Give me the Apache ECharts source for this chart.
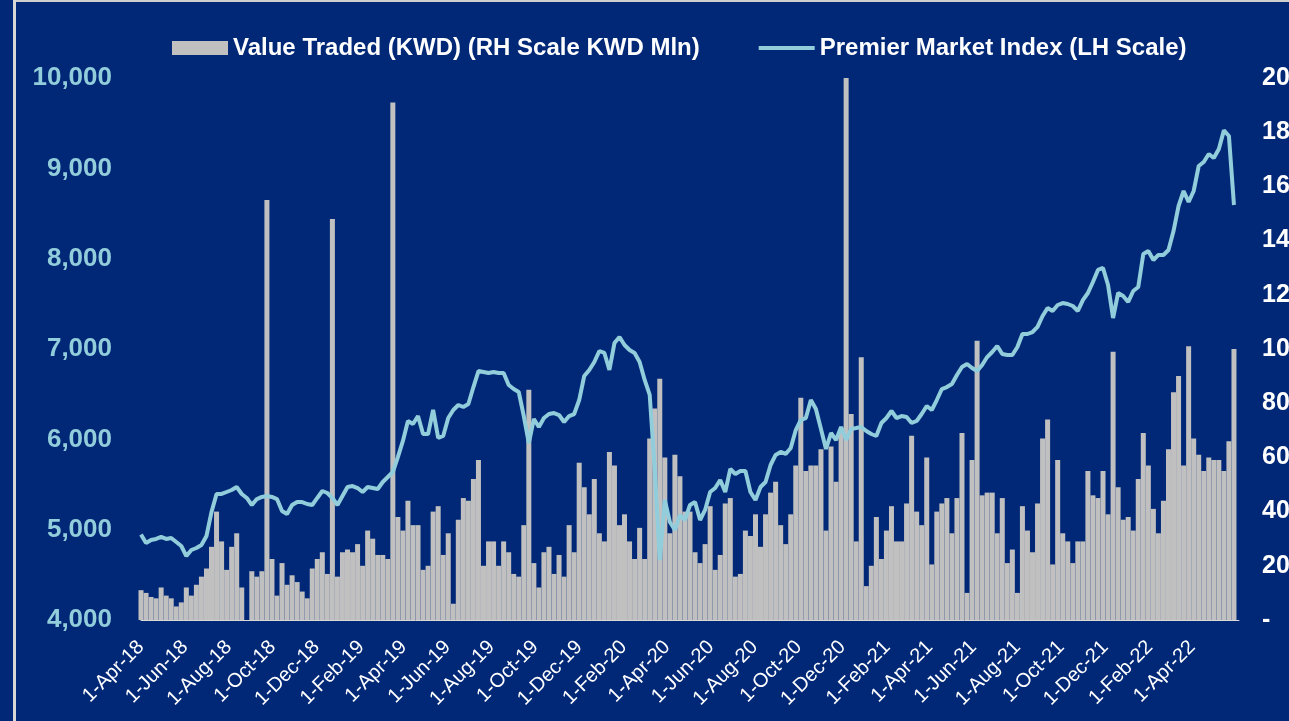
<!DOCTYPE html>
<html>
<head>
<meta charset="utf-8">
<title>Premier Market Index vs Value Traded</title>
<script src="https://cdn.jsdelivr.net/npm/echarts@6.0.0/dist/echarts.min.js"></script>
<style>
  html, body { margin: 0; padding: 0; background: #002877; }
  #chart { width: 1289px; height: 721px; }
</style>
</head>
<body>
<div id="chart"></div>
<script>
// weekly readings, first week starts 1-Apr-18
var weekStart = '2018-04-01';

// Value traded, KWD mln (right scale)
var valueTraded = [
  11, 10, 8.5, 8, 12, 9, 8, 5, 6.5, 12, 9, 13, 16, 19, 27, 40, 29, 18.5, 27, 32,
  12, 0, 18, 16, 18, 155, 22.5, 9, 21, 13, 16.5, 14, 10.5, 8, 19, 22.5, 25, 17, 148, 16,
  25, 26, 25, 28, 20, 33, 30, 24, 24, 22.5, 191, 38, 33, 44, 35, 35, 18.5, 20, 40, 42,
  24, 32, 6, 37, 45, 44, 52, 59, 20, 29, 29, 20, 29, 25, 17, 16, 35, 85, 21, 12,
  25, 27, 17, 24, 16, 35, 25, 58, 49, 39, 52, 32, 29, 62, 57, 35, 39, 29, 22.5, 34,
  22.5, 67, 78, 89, 60, 32, 61, 53, 40, 40, 25, 21, 28, 42, 18.5, 24, 43, 45, 16, 17,
  33, 31, 39, 27, 39, 47, 51, 35, 28, 39, 57, 82, 55, 57, 57, 63, 33, 64, 51, 70,
  200, 76, 29, 97, 12.5, 20, 38, 22.5, 33, 42, 29, 29, 43, 68, 40, 35, 60, 20.5, 40, 43,
  45, 32, 45, 69, 10, 59, 103, 46, 47, 47, 32, 45, 21, 26, 10, 42, 33, 25, 43, 67,
  74, 20.5, 59, 32, 29, 21, 29, 29, 55, 46, 45, 55, 39, 99, 49, 37, 38, 33, 52, 69,
  57, 41, 32, 44, 63, 84, 90, 57, 101, 67, 61, 55, 60, 59, 59, 55, 66, 100
];

// Premier Market Index (left scale)
var premierIndex = [
  4947, 4852, 4886, 4897, 4919, 4897, 4908, 4863, 4819, 4708, 4775, 4797, 4830, 4930, 5196, 5395, 5395, 5417, 5439, 5472,
  5395, 5351, 5273, 5339, 5362, 5373, 5362, 5339, 5207, 5173, 5273, 5306, 5306, 5284, 5273, 5351, 5428, 5406, 5351, 5273,
  5373, 5472, 5483, 5461, 5417, 5472, 5461, 5450, 5528, 5583, 5638, 5804, 5982, 6203, 6170, 6258, 6059, 6059, 6325, 6015,
  6037, 6236, 6325, 6380, 6358, 6391, 6579, 6756, 6745, 6734, 6745, 6734, 6734, 6601, 6557, 6524, 6258, 5959, 6225, 6137,
  6236, 6280, 6291, 6269, 6192, 6258, 6280, 6435, 6701, 6768, 6856, 6978, 6956, 6768, 7066, 7133, 7044, 6989, 6956, 6856,
  6657, 6491, 5661, 4664, 5328, 5085, 4996, 5162, 5107, 5273, 5306, 5107, 5218, 5417, 5461, 5550, 5417, 5672, 5616, 5649,
  5649, 5417, 5328, 5472, 5528, 5716, 5827, 5860, 5838, 5904, 6103, 6214, 6236, 6435, 6336, 6114, 5893, 6070, 5993, 6137,
  5993, 6114, 6125, 6137, 6092, 6059, 6037, 6181, 6236, 6314, 6236, 6258, 6247, 6181, 6203, 6280, 6369, 6325, 6435, 6557,
  6579, 6613, 6712, 6801, 6834, 6790, 6756, 6823, 6911, 6967, 7033, 6945, 6934, 6934, 7022, 7166, 7166, 7188, 7244, 7365,
  7454, 7421, 7487, 7509, 7498, 7476, 7421, 7542, 7620, 7742, 7875, 7897, 7708, 7343, 7620, 7587, 7520, 7642, 7686, 8052,
  8085, 7985, 8041, 8041, 8096, 8306, 8583, 8749, 8627, 8749, 9026, 9070, 9159, 9114, 9214, 9420, 9358, 8594
];

var xTickDates = [
  '2018-04-01', '2018-06-01', '2018-08-01', '2018-10-01', '2018-12-01',
  '2019-02-01', '2019-04-01', '2019-06-01', '2019-08-01', '2019-10-01', '2019-12-01',
  '2020-02-01', '2020-04-01', '2020-06-01', '2020-08-01', '2020-10-01', '2020-12-01',
  '2021-02-01', '2021-04-01', '2021-06-01', '2021-08-01', '2021-10-01', '2021-12-01',
  '2022-02-01', '2022-04-01'
];
var monthNames = ['Jan', 'Feb', 'Mar', 'Apr', 'May', 'Jun', 'Jul', 'Aug', 'Sep', 'Oct', 'Nov', 'Dec'];

var xMin = '2018-04-01';
var xMax = '2022-06-05';

var DAY = 86400000;
function toUTC(s) {
  var p = s.split('-');
  return Date.UTC(+p[0], +p[1] - 1, +p[2]);
}
// x values are days counted from xMin
function dayOf(s) { return Math.round((toUTC(s) - toUTC(xMin)) / DAY); }
function labelOf(day) {
  var d = new Date(toUTC(xMin) + day * DAY);
  return d.getUTCDate() + '-' + monthNames[d.getUTCMonth()] + '-' + String(d.getUTCFullYear()).slice(2);
}

var firstDay = dayOf(weekStart);
var barData = valueTraded.map(function (v, i) { return [firstDay + 7 * i, v]; });
var lineData = premierIndex.map(function (v, i) { return [firstDay + 7 * i, v]; });

var chart = echarts.init(document.getElementById('chart'), null, { renderer: 'canvas' });

var font = 'Liberation Sans, Arial, sans-serif';
var lineColor = '#92cddc';

var option = {
  backgroundColor: '#002877',
  textStyle: { fontFamily: font },
  animation: false,
  graphic: [
    { type: 'rect', shape: { x: 13, y: 0, width: 3, height: 721 }, style: { fill: '#d6d6d6' }, silent: true },
    { type: 'rect', shape: { x: 16, y: 0, width: 1273, height: 2 }, style: { fill: '#cfcfcf' }, silent: true }
  ],
  legend: {
    left: 167,
    top: 31,
    itemWidth: 56,
    itemHeight: 14,
    itemGap: 57,
    textStyle: { color: '#ffffff', fontSize: 24, fontWeight: 'bold', fontFamily: font },
    data: [
      { name: 'Value Traded (KWD) (RH Scale KWD Mln)', icon: 'rect' },
      {
        name: 'Premier Market Index (LH Scale)',
        itemStyle: { opacity: 0 },
        lineStyle: { width: 4, color: lineColor }
      }
    ]
  },
  grid: {
    left: 141,
    right: 50,
    top: 78,
    bottom: 101,
    containLabel: false,
    outerBoundsMode: 'none'
  },
  xAxis: {
    type: 'value',
    min: 0,
    max: dayOf(xMax),
    axisLine: { show: true, lineStyle: { color: '#d9d9d9', width: 1 } },
    axisTick: { show: false },
    splitLine: { show: false },
    axisLabel: {
      customValues: xTickDates.map(dayOf),
      rotate: 45,
      margin: 24,
      color: '#ffffff',
      fontSize: 20,
      fontFamily: font,
      formatter: function (v) { return labelOf(v); }
    }
  },
  yAxis: [
    {
      type: 'value',
      position: 'left',
      min: 4000,
      max: 10000,
      interval: 1000,
      axisLine: { show: false },
      axisTick: { show: false },
      splitLine: { show: false },
      axisLabel: {
        margin: 29,
        color: lineColor,
        fontSize: 26,
        fontWeight: 'bold',
        fontFamily: font,
        formatter: function (v) { return v.toLocaleString('en-US'); }
      }
    },
    {
      type: 'value',
      position: 'right',
      min: 0,
      max: 200,
      interval: 20,
      axisLine: { show: false },
      axisTick: { show: false },
      splitLine: { show: false },
      axisLabel: {
        margin: 23,
        color: '#ffffff',
        fontSize: 25,
        fontWeight: 'bold',
        fontFamily: font,
        formatter: function (v) { return v === 0 ? '-' : String(v); }
      }
    }
  ],
  series: [
    {
      name: 'Value Traded (KWD) (RH Scale KWD Mln)',
      type: 'bar',
      yAxisIndex: 1,
      barWidth: 5,
      itemStyle: { color: '#c0c0c0' },
      data: barData,
      z: 2
    },
    {
      name: 'Premier Market Index (LH Scale)',
      type: 'line',
      yAxisIndex: 0,
      symbol: 'none',
      lineStyle: { color: lineColor, width: 4 },
      itemStyle: { color: lineColor },
      data: lineData,
      z: 3
    }
  ]
};

chart.setOption(option);
window.addEventListener('resize', chart.resize);
</script>
</body>
</html>
